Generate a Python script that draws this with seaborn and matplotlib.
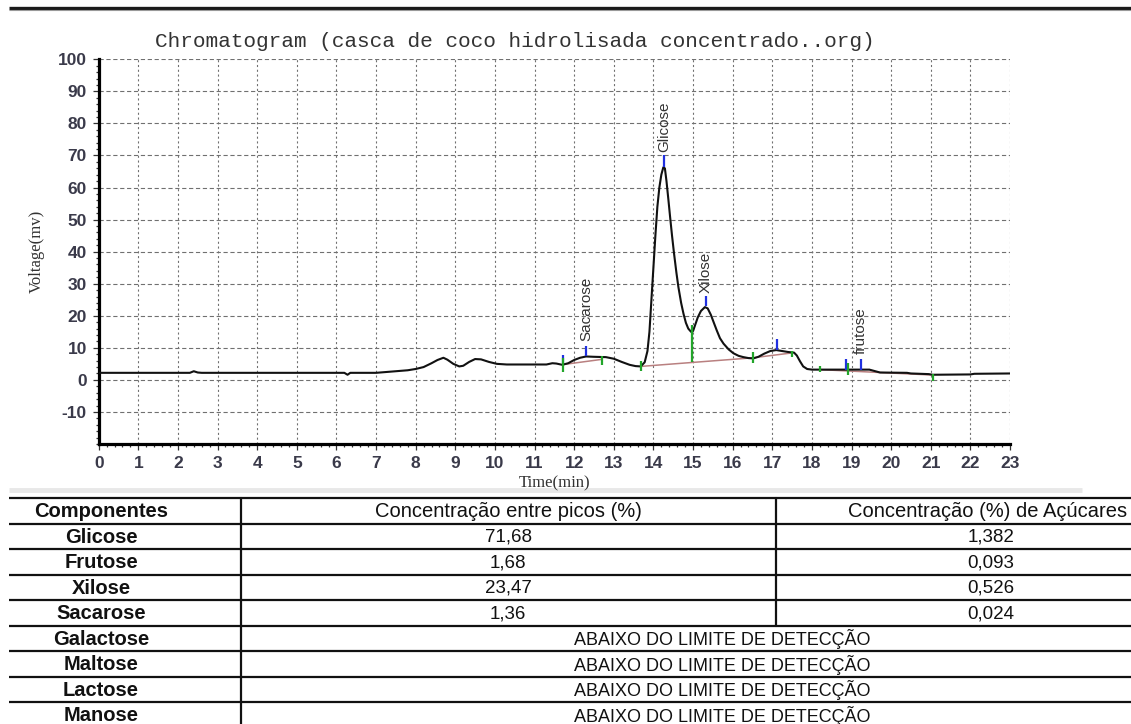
import numpy as np
import pandas as pd
import matplotlib
matplotlib.use("Agg")
import matplotlib.pyplot as plt
from matplotlib.ticker import MultipleLocator
import seaborn as sns

# --- chromatogram trace (time in min, signal in mV) ---
time_min = [0.0, 1.0, 2.3, 2.4, 2.5, 2.6, 6.2, 6.28, 6.35, 7.0, 7.4, 7.8, 8.0, 8.2,
            8.4, 8.55, 8.7, 8.8, 8.95, 9.1, 9.2, 9.35, 9.5, 9.65, 9.85, 10.05, 10.3,
            11.3, 11.45, 11.55, 11.7, 11.85, 12.0, 12.15, 12.3, 12.5, 12.8, 13.0,
            13.2, 13.4, 13.55, 13.68, 13.78, 13.85, 13.9, 13.95, 14.0, 14.05, 14.1,
            14.15, 14.2, 14.25, 14.29, 14.33, 14.38, 14.42, 14.47, 14.52, 14.58,
            14.63, 14.7, 14.76, 14.82, 14.88, 14.95, 15.0, 15.05, 15.12, 15.2, 15.3,
            15.37, 15.45, 15.52, 15.6, 15.68, 15.77, 15.9, 16.02, 16.15, 16.27, 16.4,
            16.52, 16.65, 16.8, 16.95, 17.1, 17.25, 17.4, 17.55, 17.62, 17.7, 17.78,
            17.88, 18.0, 19.45, 19.6, 19.72, 20.4, 20.5, 20.95, 21.05, 22.0, 22.1,
            23.0]
voltage_mv = [2.2, 2.2, 2.2, 2.7, 2.3, 2.2, 2.2, 1.6, 2.2, 2.2, 2.6, 3.0, 3.4, 4.0,
              5.2, 6.2, 6.9, 6.3, 5.0, 4.2, 4.4, 5.6, 6.5, 6.4, 5.6, 5.0, 4.8,
              4.8, 5.2, 5.1, 4.7, 5.2, 6.2, 6.9, 7.3, 7.2, 7.1, 6.6,
              5.6, 4.7, 4.3, 4.2, 5.5, 9.0, 15.0, 25.0, 35.0, 45.0, 54.0,
              60.0, 64.0, 66.3, 66.0, 62.0, 56.0, 51.0, 45.0, 39.5, 33.5,
              29.0, 24.0, 20.6, 17.8, 16.0, 15.0, 15.2, 17.0, 19.5, 21.5, 22.7,
              22.3, 20.3, 18.0, 15.4, 13.0, 11.3, 9.5, 8.3, 7.5, 7.1, 6.8,
              6.7, 7.2, 8.2, 9.0, 9.3, 9.0, 8.7, 8.5, 7.6, 5.8, 4.2,
              3.4, 3.2, 3.2, 2.7, 2.3, 2.2, 2.0, 1.8, 1.6, 1.7, 1.9,
              2.0]

# peak names and where they are written (time, bottom of the label in mV)
peak_names = ["Sacarose", "Glicose", "Xilose", "frutose"]
peak_label_t = [12.3, 14.27, 15.32, 19.23]
peak_label_v = [12.0, 71.0, 27.2, 8.0]

# peak apex markers (time, low mV, high mV)
apex_t = [11.73, 12.3, 14.27, 15.32, 17.11, 18.86, 19.23]
apex_lo = [5.4, 7.3, 66.5, 22.9, 9.2, 3.2, 3.2]
apex_hi = [7.8, 10.6, 70.0, 26.3, 12.7, 6.6, 6.5]

# integration boundary markers (time, low mV, high mV)
bound_t = [11.73, 12.7, 13.68, 14.97, 16.52, 17.49, 18.2, 18.92, 21.06]
bound_lo = [2.4, 4.7, 2.8, 5.5, 5.2, 7.0, 2.6, 1.4, -0.2]
bound_hi = [6.9, 7.4, 5.8, 17.0, 8.6, 8.9, 4.4, 5.4, 1.8]

# drawn baselines under the integrated peaks (t0, v0, t1, v1)
base_t0 = [11.73, 13.68, 16.52, 18.2]
base_v0 = [4.8, 4.2, 6.9, 3.2]
base_t1 = [12.7, 16.52, 17.49, 21.06]
base_v1 = [6.4, 6.9, 8.4, 1.5]

# --- results table ---
componentes = ["Glicose", "Frutose", "Xilose", "Sacarose",
               "Galactose", "Maltose", "Lactose", "Manose"]
conc_picos = [71.68, 1.68, 23.47, 1.36]
conc_acucares = [1.382, 0.093, 0.526, 0.024]
table_header = ["Componentes", "Concentração entre picos (%)",
                "Concentração (%) de Açúcares"]
below_limit = "ABAIXO DO LIMITE DE DETECÇÃO"

title_text = "Chromatogram (casca de coco hidrolisada concentrado..org)"

# ------------------------------------------------------------------
W, H = 1131, 724
sns.set_theme(style="white")
plt.rcParams["font.family"] = ["Liberation Sans", "DejaVu Sans"]
plt.rcParams["axes.unicode_minus"] = False

fig = plt.figure(figsize=(W / 100, H / 100), dpi=100)
fig.patch.set_facecolor("white")

# overlay in pixel units for page furniture and the table
pg = fig.add_axes([0, 0, 1, 1], zorder=0)
pg.set_xlim(0, W)
pg.set_ylim(H, 0)
pg.axis("off")
pg.patch.set_alpha(0)

# chart axes
x0, x1, ytop, ybot = 98.7, 1010.0, 59.3, 444.0
ax = fig.add_axes([x0 / W, 1 - ybot / H, (x1 - x0) / W, (ybot - ytop) / H], zorder=2)
ax.patch.set_alpha(0)

df = pd.DataFrame({"Time(min)": time_min, "Voltage(mv)": voltage_mv})
sns.lineplot(data=df, x="Time(min)", y="Voltage(mv)", ax=ax, color="#111111",
             linewidth=1.5, zorder=4)

for a, b, c, d in zip(base_t0, base_v0, base_t1, base_v1):
    ax.plot([a, c], [b, d], color="#b98080", lw=1.1, zorder=3)
ax.vlines(apex_t, apex_lo, apex_hi, colors="#2030e0", lw=1.6, zorder=5)
ax.vlines(bound_t, bound_lo, bound_hi, colors="#22a52a", lw=1.6, zorder=5)

for name, t, v in zip(peak_names, peak_label_t, peak_label_v):
    ax.text(t, v, name, rotation=90, ha="center", va="bottom", fontsize=11,
            color="#333333", zorder=6)

ax.set_xlim(0, 23)
ax.set_ylim(-20, 100)
ax.xaxis.set_major_locator(MultipleLocator(1))
ax.xaxis.set_minor_locator(MultipleLocator(0.2))
ax.set_yticks(np.arange(-10, 101, 10))
ax.yaxis.set_minor_locator(MultipleLocator(2))

ax.xaxis.grid(True, which="major", color="#707070", lw=0.8, linestyle=(0, (1.9, 2.4)))
ax.yaxis.grid(True, which="major", color="#707070", lw=0.8, linestyle=(0, (3.8, 2.4)))
ax.set_axisbelow(True)

for s in ["top", "right"]:
    ax.spines[s].set_visible(False)
for s in ["left", "bottom"]:
    ax.spines[s].set_visible(True)
    ax.spines[s].set_color("black")
    ax.spines[s].set_linewidth(2.3)

ax.tick_params(which="both", direction="out", left=True, bottom=True,
               color="#333333", width=0.9)
ax.tick_params(which="major", length=4.5, pad=4, labelsize=12.5,
               labelcolor="#3a3a4a")
ax.tick_params(which="minor", length=2.5)
for lab in ax.get_xticklabels() + ax.get_yticklabels():
    lab.set_fontweight("bold")

ax.set_xlabel("Time(min)", family=["Liberation Serif"], fontsize=12, color="#333333")
ax.set_ylabel("Voltage(mv)", family=["Liberation Serif"], fontsize=12, color="#333333")
ax.xaxis.set_label_coords(0.5, (ybot - 475) / (ybot - ytop))
ax.yaxis.set_label_coords((45 - x0) / (x1 - x0), 0.5)

# title
pg.text(514.5, 41.5, title_text, family=["Liberation Mono"], fontsize=15.2,
        color="#333333", ha="center", va="center")

# page rules
pg.plot([9, W], [7.5, 7.5], color="#1a1a1a", lw=2.4, solid_capstyle="butt")
pg.plot([9, W], [10.2, 10.2], color="#9a9a9a", lw=0.8, solid_capstyle="butt")
pg.plot([9, 1082], [490, 490], color="#e8e8e8", lw=3.5, solid_capstyle="butt")

# table grid
row_h = 25.5
t_top = 498.0
col_sep1, col_sep2 = 241.0, 776.0
n_rows = len(componentes) + 1
for i in range(n_rows):
    yy = t_top + i * row_h
    pg.plot([9, W], [yy, yy], color="#111111", lw=1.6, solid_capstyle="butt")
pg.plot([col_sep1, col_sep1], [t_top, H], color="#111111", lw=1.6)
pg.plot([col_sep2, col_sep2], [t_top, t_top + (len(conc_picos) + 1) * row_h],
        color="#111111", lw=1.6)

cx1, cx2, cx3, cx23 = 101.0, 508.0, 988.0, 722.0
fs_head = 14.5
fs_val = 13.5
fs_note = 13


def row_y(i):
    return t_top + i * row_h + row_h / 2 + 1.0


pg.text(cx1, row_y(0), table_header[0], ha="center", va="center",
        fontsize=fs_head, fontweight="bold", color="#111111")
pg.text(cx2, row_y(0), table_header[1], ha="center", va="center",
        fontsize=fs_head, color="#111111")
pg.text(cx3, row_y(0), table_header[2], ha="center", va="center",
        fontsize=fs_head, color="#111111")

for i, name in enumerate(componentes):
    y = row_y(i + 1)
    pg.text(cx1, y, name, ha="center", va="center", fontsize=fs_head,
            fontweight="bold", color="#111111")
    if i < len(conc_picos):
        pg.text(cx2, y, f"{conc_picos[i]:.2f}".replace(".", ","), ha="center",
                va="center", fontsize=fs_val, color="#111111")
        pg.text(991.0, y, f"{conc_acucares[i]:.3f}".replace(".", ","), ha="center",
                va="center", fontsize=fs_val, color="#111111")
    else:
        pg.text(cx23, y, below_limit, ha="center", va="center", fontsize=fs_note,
                color="#111111")

fig.savefig("out.png", dpi=100, facecolor="white")
